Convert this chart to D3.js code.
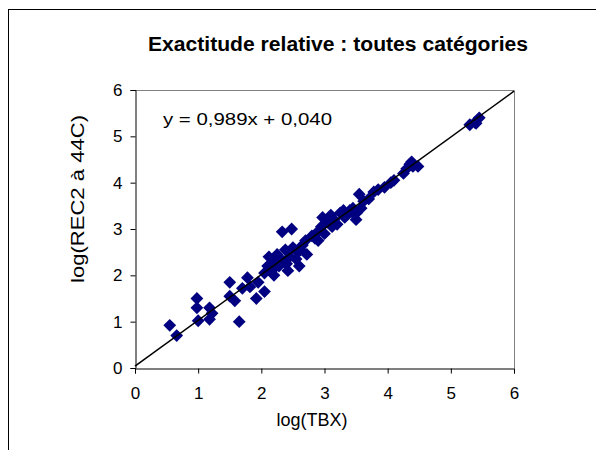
<!DOCTYPE html>
<html>
<head>
<meta charset="utf-8">
<script src="https://cdn.jsdelivr.net/npm/d3@7"></script>
<style>
body { margin: 0; background: #fff; }
svg { display: block; font-family: "Liberation Sans", Arial, sans-serif; }
</style>
</head>
<body>
<svg id="chart" width="596" height="450"></svg>
<script>
// log(TBX) values
var xValues = [0.55, 0.66, 0.98, 0.98, 1.00, 1.18, 1.18, 1.22,
	1.50, 1.50, 1.58, 1.65, 1.70, 1.78, 1.82, 1.92, 1.95, 2.05, 2.05, 2.10,
	2.12, 2.15, 2.20, 2.22, 2.25, 2.28, 2.30, 2.33, 2.38, 2.40, 2.42, 2.45,
	2.48, 2.50, 2.55, 2.58, 2.60, 2.65, 2.70, 2.72, 2.80, 2.85, 2.90, 2.95,
	2.97, 3.00, 3.05, 3.10, 3.15, 3.20, 3.25, 3.30, 3.35, 3.40, 3.45, 3.50,
	3.51, 3.55, 3.58, 3.62, 3.70, 3.78, 3.85, 3.95, 4.05, 4.10, 4.25, 4.30,
	4.35, 4.40, 4.38, 4.48, 5.30, 5.38, 5.45, 5.40,
	2.20, 2.35, 2.62, 2.90, 3.12, 3.32, 3.45, 2.18];
// log(REC2 à 44C) values
var yValues = [0.92, 0.70, 1.50, 1.30, 1.02, 1.30, 1.05, 1.18,
	1.85, 1.55, 1.45, 1.00, 1.72, 1.95, 1.75, 1.50, 1.85, 1.65, 2.05, 2.20,
	2.40, 2.10, 2.00, 2.30, 2.45, 2.20, 2.35, 2.94, 2.55, 2.25, 2.10, 2.40,
	3.00, 2.60, 2.35, 2.50, 2.20, 2.65, 2.75, 2.45, 2.85, 2.80, 2.95, 3.05,
	3.25, 2.90, 3.15, 3.30, 3.20, 3.10, 3.35, 3.40, 3.30, 3.40, 3.35, 3.20,
	3.35, 3.75, 3.45, 3.60, 3.65, 3.80, 3.85, 3.90, 4.00, 4.05, 4.20, 4.30,
	4.40, 4.35, 4.45, 4.35, 5.25, 5.30, 5.40, 5.28,
	2.15, 2.30, 2.55, 2.75, 3.05, 3.25, 3.45, 2.35];
var axisTicks = [0, 1, 2, 3, 4, 5, 6];
var slope = 0.989, intercept = 0.040;

var svg = d3.select("#chart");

// outer chart frame (cut by the window on the right and bottom)
svg.append("rect")
	.attr("x", 8.5).attr("y", 9.5)
	.attr("width", 620).attr("height", 470)
	.attr("fill", "none").attr("stroke", "#000");

var plotLeft = 135, plotRight = 514, plotTop = 90, plotBottom = 368;

var x = d3.scaleLinear().domain([0, 6]).range([plotLeft, plotRight]);
var y = d3.scaleLinear().domain([0, 6]).range([plotBottom, plotTop]);

svg.append("text")
	.attr("x", 338).attr("y", 51)
	.attr("text-anchor", "middle")
	.style("font-size", "20px").style("font-weight", "bold")
	.attr("textLength", 380).attr("lengthAdjust", "spacingAndGlyphs")
	.text("Exactitude relative : toutes catégories");

// plot area border (grey top/right)
svg.append("path")
	.attr("d", "M" + plotLeft + "," + (plotTop + 0.5) + "H" + (plotRight + 0.5) + "V" + plotBottom)
	.attr("fill", "none").attr("stroke", "#808080");

var xAxis = svg.append("g")
	.attr("transform", "translate(0," + (plotBottom + 0.5) + ")")
	.call(d3.axisBottom(x).tickValues(axisTicks).tickSize(5).tickPadding(13).tickFormat(d3.format("d")));
var yAxis = svg.append("g")
	.attr("transform", "translate(" + (plotLeft + 0.5) + ",0)")
	.call(d3.axisLeft(y).tickValues(axisTicks).tickSize(5).tickPadding(8).tickFormat(d3.format("d")));

[xAxis, yAxis].forEach(function(g) {
	g.select(".domain").attr("stroke", "#000");
	g.selectAll(".tick line").attr("stroke", "#000");
	g.selectAll("text").style("font-size", "17px").style("font-family", "Liberation Sans, Arial, sans-serif").attr("fill", "#000");
});

svg.append("text")
	.attr("x", 312).attr("y", 426)
	.attr("text-anchor", "middle")
	.style("font-size", "18px")
	.text("log(TBX)");

svg.append("text")
	.attr("transform", "translate(84," + 199 + ") rotate(-90)")
	.attr("text-anchor", "middle")
	.style("font-size", "19px")
	.attr("textLength", 168).attr("lengthAdjust", "spacingAndGlyphs")
	.text("log(REC2 à 44C)");

var points = xValues.map(function(v, i) { return { x: v, y: yValues[i] }; });

svg.append("g").selectAll("path")
	.data(points)
	.enter()
	.append("path")
	.attr("d", d3.symbol().type(d3.symbolDiamond2).size(104))
	.attr("transform", function(d) { return "translate(" + x(d.x) + "," + y(d.y) + ")"; })
	.attr("fill", "#000080");

// trend line
svg.append("line")
	.attr("x1", x(0)).attr("y1", y(intercept))
	.attr("x2", x(6)).attr("y2", y(slope * 6 + intercept))
	.attr("stroke", "#000").attr("stroke-width", 1.5);

svg.append("text")
	.attr("x", 163).attr("y", 125)
	.style("font-size", "17px")
	.attr("textLength", 169).attr("lengthAdjust", "spacingAndGlyphs")
	.text("y = 0,989x + 0,040");
</script>
</body>
</html>
